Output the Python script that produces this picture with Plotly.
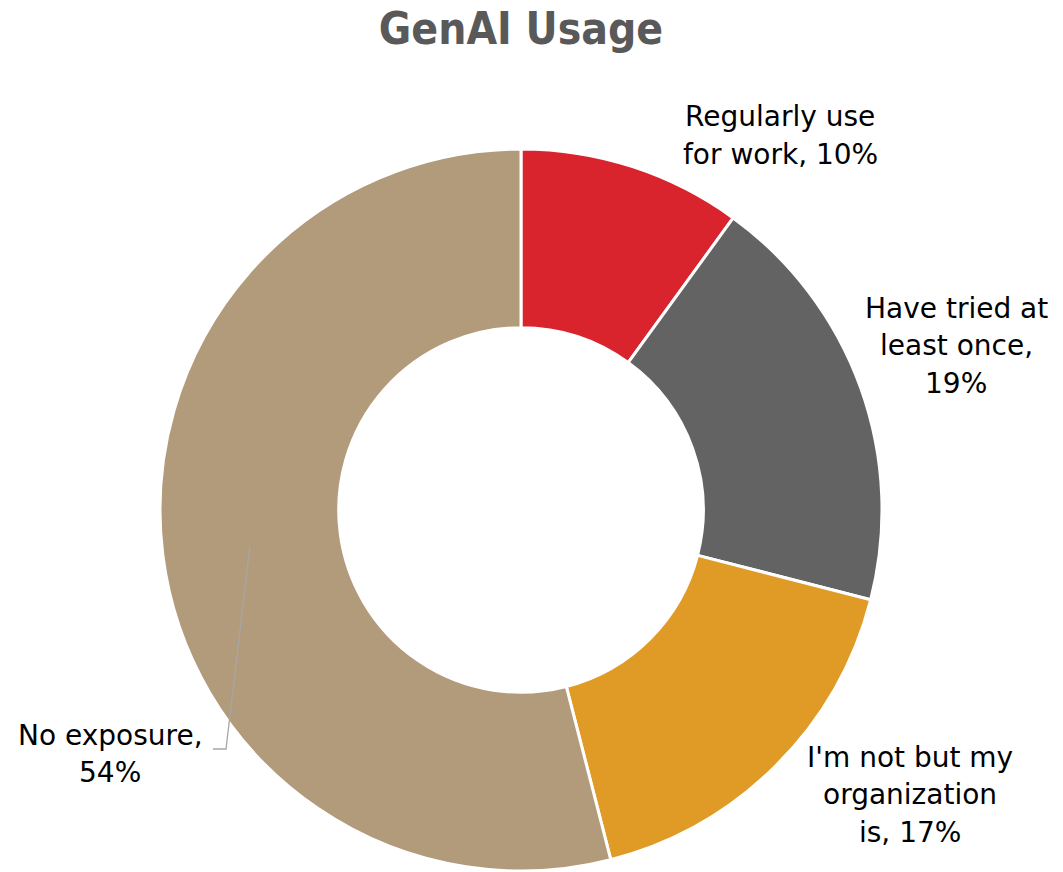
import plotly.graph_objects as go

labels = ["Regularly use for work", "Have tried at least once",
          "I'm not but my organization is", "No exposure"]
values = [10, 19, 17, 54]
colors = ["#D9232D", "#636363", "#E09A26", "#B29B7B"]
label_lines = [
    ["Regularly use", "for work, {}%"],
    ["Have tried at", "least once,", "{}%"],
    ["I'm not but my", "organization", "is, {}%"],
    ["No exposure,", "{}%"],
]

W, H = 1063, 872
cx, cy, R = 521, 510, 361

fig = go.Figure(go.Pie(
    labels=labels, values=values, sort=False, direction="clockwise",
    rotation=0, hole=0.505,
    marker=dict(colors=colors, line=dict(color="white", width=3)),
    textinfo="none", hoverinfo="label+percent", showlegend=False,
    domain=dict(x=[(cx - R) / W, (cx + R) / W],
                y=[(H - cy - R) / H, (H - cy + R) / H]),
))

label_pos = [(780, 117), (956, 308), (910, 757), (110, 735)]
line_gap = 37.5
FONT = "DejaVu Sans, sans-serif"
TFONT = "DejaVu Sans Condensed, DejaVu Sans, sans-serif"

annotations = []
for lines, v, (lx, ly) in zip(label_lines, values, label_pos):
    for i, ln in enumerate(lines):
        annotations.append(dict(
            x=lx / W, y=1 - (ly + i * line_gap) / H,
            xref="paper", yref="paper",
            text=ln.format(v) if "{}" in ln else ln, showarrow=False,
            xanchor="center", yanchor="middle",
            font=dict(family=FONT, size=28, color="#000000"),
        ))

def px(x, y):
    return f"{x / W} {1 - y / H}"

fig.update_layout(
    width=W, height=H,
    margin=dict(l=0, r=0, t=0, b=0),
    paper_bgcolor="white", plot_bgcolor="white",
    title=dict(text="<b>GenAI Usage</b>", x=521 / W, xanchor="center",
               y=1 - 29 / H, yanchor="middle",
               font=dict(family=TFONT, size=44, color="#595959")),
    annotations=annotations,
    shapes=[dict(type="path", xref="paper", yref="paper",
                 path=f"M {px(250, 546)} L {px(226, 749)} L {px(213, 749)}",
                 line=dict(color="#A6A6A6", width=1.3))],
)

fig.write_html("out.html",
               config={"displayModeBar": False},
               post_script="document.body.style.margin='0px';")
